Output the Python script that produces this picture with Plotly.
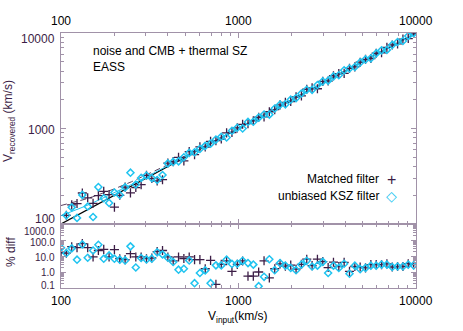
import math
import plotly.graph_objects as go

# ---------------- data ----------------
v_input = [100, 107.2, 114.9, 123.1, 131.9, 141.4, 151.6, 162.4, 174.1, 186.6,
           200.0, 214.3, 229.7, 246.2, 263.9, 282.8, 303.1, 324.8, 348.2, 373.2,
           399.9, 428.6, 459.4, 492.3, 527.7, 565.5, 606.1, 649.6, 696.2, 746.1,
           799.8, 857.1, 918.6, 984.7, 1055, 1131, 1212, 1299, 1393, 1492,
           1600, 1714, 1837, 1969, 2110, 2262, 2424, 2598, 2784, 2984,
           3199, 3428, 3674, 3937, 4220, 4523, 4847, 5195, 5568, 5967,
           6397, 6855, 7347, 7874, 8439, 9045, 9696]

matched_pct = [16, 15, 38, 33, 60, 33, 8.7, 22, 26, 8.7,
               25, 6.8, 5.9, 14, 8.7, 8.7, 6.8, 7.5, 19, 22,
               8.7, 4.9, 8.7, 7.0, 8.7, 5.9, 5.9, 1.6, 5.3, 0.17,
               3.0, 5.0, 1.1, 3.0, 4.9, 0.55, 0.55, 1.0, 5.0, 0.43,
               1.6, 3.2, 2.3, 2.7, 1.5, 3.0, 6.3, 2.5, 6.3, 4.5,
               1.9, 4.1, 2.2, 4.0, 1.1, 2.2, 2.05, 1.8, 2.9, 2.9,
               2.9, 3.2, 2.05, 2.2, 2.2, 3.3, 2.9]
matched_sign = [-1, 1, 1, 1, 1, 1, 1, 1, 1, 1,
                -1, -1, 1, -1, -1, -1, 1, -1, -1, -1,
                1, 1, 1, -1, 1, -1, 1, -1, 1, 1,
                -1, 1, -1, 1, 1, -1, -1, 1, -1, 1,
                -1, 1, 1, -1, 1, -1, 1, 1, -1, 1,
                -1, 1, 1, -1, 1, -1, 1, 1, -1, 1,
                -1, 1, 1, -1, 1, -1, 1]

unbiased_pct = [33, 15, 30, 5.9, 53, 7.8, 22, 50, 6.8, 10.9,
                6.8, 5.9, 5.3, 40, 1.9, 7.5, 6.1, 6.8, 17, 12.6,
                7.8, 4.2, 1.4, 1.6, 5.3, 0.2, 0.87, 1.26, 0.2, 2.6,
                2.6, 5.9, 3.2, 3.3, 5.0, 3.6, 2.9, 0.13, 0.5, 6.3,
                1.3, 3.6, 2.5, 1.8, 1.3, 2.9, 5.0, 2.2, 2.5, 4.3,
                0.87, 2.5, 1.8, 3.3, 0.78, 2.5, 1.5, 1.8, 2.5, 2.5,
                2.9, 2.9, 2.05, 2.2, 2.2, 2.9, 2.6]
unbiased_sign = [-1, 1, 1, -1, 1, 1, -1, 1, 1, -1,
                 1, -1, 1, 1, -1, 1, 1, -1, -1, -1,
                 1, 1, -1, 1, 1, -1, 1, 1, -1, 1,
                 1, -1, 1, 1, -1, 1, -1, 1, 1, -1,
                 1, 1, -1, 1, -1, 1, 1, -1, 1, 1,
                 -1, 1, -1, 1, 1, -1, 1, 1, -1, 1,
                 1, -1, 1, 1, -1, 1, 1]

# reference lines
one_to_one = [100, 10000]
curve_v = [100, 110, 120, 135, 150, 175, 200, 250, 300, 400, 500, 700, 1000, 2000, 10000]
dashed_rec = [156.2, 162.8, 169.7, 180.6, 192.1, 212.2, 233.2, 277.3, 323.1, 417.6,
              514.2, 710.2, 1007.2, 2003.6, 10000.7]
cyan_rec = [122.1, 130.4, 138.9, 152.1, 165.5, 188.5, 211.9, 259.6, 308.1, 406.1,
            504.9, 703.5, 1002.4, 2001.2, 10000.0]

x_ticks = [100, 1000, 10000]
x_ticktext = ["100", "1000", "10000"]
y_ticks = [100, 1000, 10000]
y_ticktext = ["100", "1000", "10000"]
pct_ticks = [1000, 100, 10, 1, 0.1]
pct_ticktext = ["1000.0", "100.0", "10.0", "1.0", "0.1"]

matched_rec = [v * (1 + s * p / 100.0) for v, p, s in zip(v_input, matched_pct, matched_sign)]
unbiased_rec = [v * (1 + s * p / 100.0) for v, p, s in zip(v_input, unbiased_pct, unbiased_sign)]

# ---------------- styling ----------------
W, H = 463, 331
L, R, T, B = 61, 47, 33, 43
PW, PH = W - L - R, H - T - B
FONT = "Liberation Sans, Arial, Helvetica, sans-serif"
PURPLE = "#3c1d46"
CYAN = "#20c4f0"
AXC = "#a192a8"


def px(xp):
    return (xp - L) / PW


def py(yp):
    return (H - B - yp) / PH


split = py(224)

fig = go.Figure()

# lines (main panel)
fig.add_trace(go.Scatter(x=one_to_one, y=one_to_one, mode="lines",
                         line=dict(color="black", width=1.2), xaxis="x", yaxis="y"))
fig.add_trace(go.Scatter(x=curve_v, y=dashed_rec, mode="lines",
                         line=dict(color="#5a4262", width=1, dash="6px,4px"), xaxis="x", yaxis="y"))
fig.add_trace(go.Scatter(x=curve_v, y=cyan_rec, mode="lines",
                         line=dict(color=CYAN, width=1), xaxis="x", yaxis="y"))

DIA = dict(symbol="diamond-open", size=5.4, color=CYAN, line=dict(width=1.5, color=CYAN))
CRS = dict(symbol="cross-thin", size=6.5, line=dict(width=1.3, color=PURPLE))

# points (main panel)
fig.add_trace(go.Scatter(x=v_input, y=matched_rec, mode="markers", marker=CRS, xaxis="x", yaxis="y"))
fig.add_trace(go.Scatter(x=v_input, y=unbiased_rec, mode="markers", marker=DIA, xaxis="x", yaxis="y"))

# points (lower panel)
fig.add_trace(go.Scatter(x=v_input, y=matched_pct, mode="markers", marker=CRS, xaxis="x2", yaxis="y2"))
fig.add_trace(go.Scatter(x=v_input, y=unbiased_pct, mode="markers", marker=DIA, xaxis="x2", yaxis="y2"))


def minor_vals(lo, hi):
    out = []
    d = lo
    while d < hi:
        out += [d * k for k in range(2, 10)]
        d *= 10
    return out


axis_common = dict(type="log", showline=True, linecolor=AXC, linewidth=1, mirror="allticks",
                   ticks="inside", ticklen=5, tickcolor=AXC, tickwidth=1, showgrid=False,
                   zeroline=False, showticklabels=False)

fig.update_layout(
    width=W, height=H, margin=dict(l=L, r=R, t=T, b=B),
    paper_bgcolor="white", plot_bgcolor="white", showlegend=False,
    font=dict(family=FONT, size=12, color="black"),
    xaxis=dict(range=[2, 4], domain=[0, 1], anchor="y", tickvals=x_ticks,
               minor=dict(tickvals=minor_vals(100, 10000), ticks="inside", ticklen=3, tickcolor=AXC),
               **axis_common),
    yaxis=dict(range=[2, 4], domain=[split, 1], anchor="x", tickvals=y_ticks,
               minor=dict(tickvals=minor_vals(100, 10000), ticks="inside", ticklen=3, tickcolor=AXC),
               **axis_common),
    xaxis2=dict(range=[2, 4], domain=[0, 1], anchor="y2", tickvals=x_ticks,
                minor=dict(tickvals=minor_vals(100, 10000), ticks="inside", ticklen=3, tickcolor=AXC),
                **axis_common),
    yaxis2=dict(range=[-1, 3], domain=[0, split], anchor="x2", tickvals=pct_ticks,
                minor=dict(tickvals=minor_vals(0.1, 1000), ticks="inside", ticklen=3, tickcolor=AXC),
                **axis_common),
)

ann = []
# x tick labels: top of main panel and bottom of lower panel
for v, t in zip(x_ticks, x_ticktext):
    ann.append(dict(x=math.log10(v), xref="x", y=py(21), yref="paper", text=t,
                    showarrow=False, xanchor="center", yanchor="middle",
                    font=dict(size=12, color="black")))
    ann.append(dict(x=math.log10(v), xref="x2", y=py(301), yref="paper", text=t,
                    showarrow=False, xanchor="center", yanchor="middle",
                    font=dict(size=12, color="black")))
# y tick labels main
for v, t, sh in zip(y_ticks, y_ticktext, [5, -1.7, -5.7]):
    ann.append(dict(x=px(56), xref="paper", y=math.log10(v), yref="y", yshift=sh, text=t,
                    showarrow=False, xanchor="right", yanchor="middle", borderpad=0,
                    font=dict(size=12, color=PURPLE)))
for v, t, sh in zip(pct_ticks, pct_ticktext, [-6.5, -2, -0.7, 0, 3]):
    ann.append(dict(x=px(56), xref="paper", y=math.log10(v), yref="y2", yshift=sh, text=t,
                    showarrow=False, xanchor="right", yanchor="middle", borderpad=0, height=10,
                    font=dict(size=10, color=PURPLE)))

# axis titles
ann.append(dict(x=px(9), xref="paper", y=py(121), yref="paper", text="V<sub>recovered</sub> (km/s)",
                textangle=-90, showarrow=False, xanchor="center", yanchor="middle",
                font=dict(size=12, color=PURPLE)))
ann.append(dict(x=px(11), xref="paper", y=py(252), yref="paper", text="% diff",
                textangle=-90, showarrow=False, xanchor="center", yanchor="middle",
                font=dict(size=12, color=PURPLE)))
ann.append(dict(x=px(238), xref="paper", y=py(317), yref="paper", text="V<sub>input</sub>(km/s)",
                showarrow=False, xanchor="center", yanchor="middle",
                font=dict(size=12, color="black")))

# in-plot labels
ann.append(dict(x=px(91), xref="paper", y=py(51), yref="paper", text="noise and CMB + thermal SZ",
                showarrow=False, xanchor="left", yanchor="middle", font=dict(size=12, color="black")))
ann.append(dict(x=px(91), xref="paper", y=py(67), yref="paper", text="EASS",
                showarrow=False, xanchor="left", yanchor="middle", font=dict(size=12, color="black")))

# legend (text + symbol glyphs)
ann.append(dict(x=px(381), xref="paper", y=py(179), yref="paper", text="Matched filter",
                showarrow=False, xanchor="right", yanchor="middle", font=dict(size=12, color="black")))
ann.append(dict(x=px(381), xref="paper", y=py(196), yref="paper", text="unbiased KSZ filter",
                showarrow=False, xanchor="right", yanchor="middle", font=dict(size=12, color="black")))
ann.append(dict(x=px(391), xref="paper", y=py(179), yref="paper", text="+",
                showarrow=False, xanchor="center", yanchor="middle", font=dict(size=16, color=PURPLE)))
ann.append(dict(x=px(391), xref="paper", y=py(196), yref="paper", text="◇",
                showarrow=False, xanchor="center", yanchor="middle",
                font=dict(size=14, color=CYAN, family="DejaVu Sans")))

fig.update_layout(annotations=ann)
fig.write_html("out.html", config={"displayModeBar": False},
               post_script="document.body.style.margin='0';")
